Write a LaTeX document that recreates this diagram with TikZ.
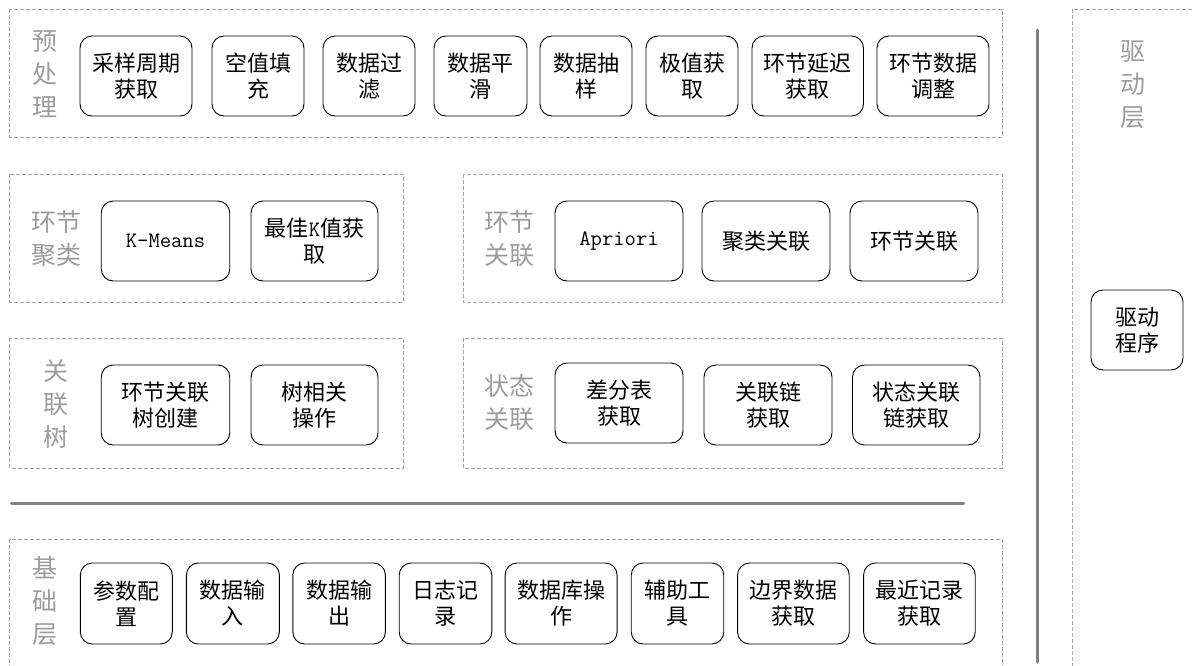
\documentclass[tikz,border=0pt]{standalone}
\usepackage{fontspec}
\setmainfont{Noto Sans CJK SC}
\definecolor{dashgray}{HTML}{A6A6A6}
\definecolor{lblgray}{HTML}{9C9C9C}
\definecolor{bargray}{HTML}{808080}
\newcommand{\lm}[1]{{\ttfamily\fontsize{22}{26}\selectfont #1}}
\tikzset{
 grp/.style={draw=dashgray, line width=0.9pt, dash pattern=on 4pt off 2pt},
 box/.style={draw=black, line width=0.9pt, rounded corners=12pt, align=center, inner sep=0pt, minimum height=80pt, font=\fontsize{22}{26}\selectfont},
 lbl/.style={text=lblgray, align=center, inner sep=0pt, font=\fontsize{25}{33}\selectfont},
 bar/.style={draw=bargray, line width=3pt, line cap=round},
}
\begin{document}
\begin{tikzpicture}[x=1pt,y=-1pt]
\useasboundingbox (0,0) rectangle (1194,665);
\clip (0,0) rectangle (1194,665);
% group frames
\draw[grp] (9.6,9) rectangle (1002,137);
\draw[grp] (9.6,174) rectangle (403,302);
\draw[grp] (463,174) rectangle (1002,302);
\draw[grp] (9.6,338) rectangle (403,468);
\draw[grp] (463,338) rectangle (1002,468);
\draw[grp] (9.6,539) rectangle (1002,690);
\draw[grp] (1072,9) rectangle (1210,690);
% separators
\coordinate (hA) at (11.5,503);
\coordinate (hB) at (963.6,503);
\coordinate (vA) at (1037,30);
\coordinate (vB) at (1037,662);
\draw[bar] (hA) -- (hB);
\draw[bar] (vA) -- (vB);
% labels
\node[lbl] (l1) at (45,74) {预\\处\\理};
\node[lbl] (l2) at (56,238.5) {环节\\聚类};
\node[lbl] (l3) at (509,238.5) {环节\\关联};
\node[lbl] (l4) at (55.5,404) {关\\联\\树};
\node[lbl] (l5) at (509,402.5) {状态\\关联};
\node[lbl] (l6) at (45,601) {基\\础\\层};
\node[lbl] (l7) at (1133,85) {驱\\动\\层};
% top row
\node[box, minimum width=112] (p1) at (136,76) {采样周期\\获取};
\node[box, minimum width=92] (p2) at (258,76) {空值填\\充};
\node[box, minimum width=92] (p3) at (369,76) {数据过\\滤};
\node[box, minimum width=93] (p4) at (480.5,76) {数据平\\滑};
\node[box, minimum width=92] (p5) at (586,76) {数据抽\\样};
\node[box, minimum width=92] (p6) at (692,76) {极值获\\取};
\node[box, minimum width=111.5] (p7) at (807.75,76) {环节延迟\\获取};
\node[box, minimum width=112] (p8) at (933,76) {环节数据\\调整};
% row 2
\node[box, minimum width=128.5] (c1) at (165.5,241) {\lm{K-Means}};
\node[box, minimum width=127] (c2) at (314.5,241) {最佳\lm{K}值获\\取};
\node[box, minimum width=128] (a1) at (619,241) {\lm{Apriori}};
\node[box, minimum width=128] (a2) at (766,241) {聚类关联};
\node[box, minimum width=128] (a3) at (914,241) {环节关联};
% row 3
\node[box, minimum width=128.5] (t1) at (165.5,405) {环节关联\\树创建};
\node[box, minimum width=127] (t2) at (314.5,405) {树相关\\操作};
\node[box, minimum width=128] (s1) at (619,403) {差分表\\获取};
\node[box, minimum width=128] (s2) at (768,405) {关联链\\获取};
\node[box, minimum width=127.5] (s3) at (916.25,405) {状态关联\\链获取};
% bottom row
\node[box, minimum width=92, minimum height=81] (f1) at (126.3,603.5) {参数配\\置};
\node[box, minimum width=93, minimum height=81] (f2) at (232.9,603.5) {数据输\\入};
\node[box, minimum width=92.6, minimum height=81] (f3) at (339.1,603.5) {数据输\\出};
\node[box, minimum width=92.6, minimum height=81] (f4) at (445.5,603.5) {日志记\\录};
\node[box, minimum width=112, minimum height=81] (f5) at (561.1,603.5) {数据库操\\作};
\node[box, minimum width=92.5, minimum height=81] (f6) at (677.5,603.5) {辅助工\\具};
\node[box, minimum width=111.7, minimum height=81] (f7) at (793.4,603.5) {边界数据\\获取};
\node[box, minimum width=111.7, minimum height=81] (f8) at (919.4,603.5) {最近记录\\获取};
% driver
\node[box, minimum width=92] (d1) at (1137,330) {驱动\\程序};
\end{tikzpicture}
\end{document}
